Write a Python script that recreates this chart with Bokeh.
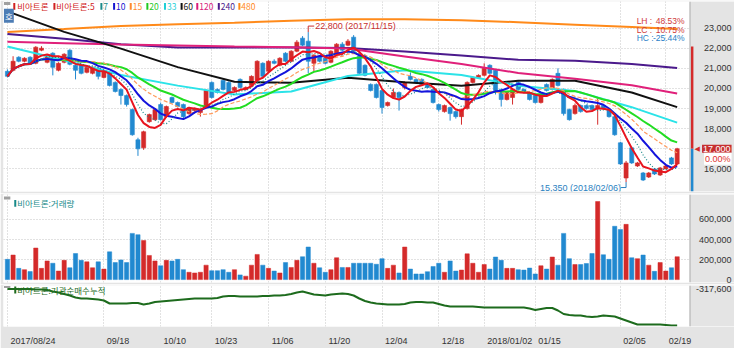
import pandas as pd
from bokeh.plotting import figure
from bokeh.models import (Range1d, FixedTicker, Grid, Label, BoxAnnotation, Span,
                          ColumnDataSource)
from bokeh.layouts import column
from bokeh.embed import file_html
from bokeh.resources import INLINE
from bokeh.core.properties import value

# ---------------------------------------------------------------- data
holidays = ["2017-10-02", "2017-10-03", "2017-10-04", "2017-10-05", "2017-10-06",
            "2017-10-09", "2017-12-25", "2017-12-29", "2018-01-01", "2018-02-15",
            "2018-02-16"]
trading_days = [d for d in pd.bdate_range("2017-08-24", "2018-02-21")
                if d.strftime("%Y-%m-%d") not in holidays]
dates = [d.strftime("%Y/%m/%d") for d in trading_days]

open_ = [20850, 20900, 21550, 21350, 21550, 21250, 21900, 21300, 21750, 20900,
         21300, 21900, 21150, 21150, 20800, 20750, 21000, 20550, 20750, 20300,
         19950, 19650, 18950, 17450, 17050, 18350, 18450, 19200, 18600, 19550,
         19300, 19200, 18750, 18900, 18800, 19050, 20300, 19950, 20400, 20300,
         19900, 20450, 19950, 20150, 20400, 21250, 20850, 21350, 21150, 21750,
         21350, 21850, 22500, 22350, 21250, 21600, 21500, 21300, 21700, 22200,
         22150, 22550, 21600, 21150, 20200, 20200, 19900, 19150, 19550, 19800,
         20050, 20600, 20450, 20450, 20200, 19950, 19200, 18850, 19050, 18850,
         18600, 19000, 20300, 20550, 20650, 21150, 20900, 19950, 19450, 19550,
         20300, 19950, 19800, 19650, 19300, 20200, 19950, 20750, 19950, 18950,
         18750, 19150, 19150, 19150, 19000, 19150, 18950, 18600, 17300, 15550,
         17050, 16150, 15800, 15600, 16000, 15700, 16000, 16550, 16250]
high = [20950, 21600, 21600, 21550, 21600, 22100, 22100, 21700, 21800, 21300,
        21750, 21950, 21200, 21200, 21100, 21100, 21050, 20900, 20800, 20350,
        20000, 19700, 19000, 17550, 17900, 18750, 19000, 19300, 19150, 19600,
        19350, 19250, 19100, 19050, 19000, 19950, 20350, 20000, 20450, 20350,
        20100, 20500, 20100, 20650, 21400, 21300, 21400, 21450, 21550, 21800,
        21900, 22400, 22600, 22800, 21700, 21650, 21550, 21900, 22250, 22300,
        22450, 22650, 21650, 21200, 20250, 20250, 19950, 19350, 20000, 19850,
        20350, 20800, 20500, 20500, 20250, 20000, 19250, 19200, 19100, 18900,
        19000, 20350, 20600, 20700, 21250, 21200, 20950, 20000, 19850, 20000,
        20350, 20000, 19850, 19700, 19700, 20250, 20500, 21000, 20000, 19000,
        19250, 19200, 19200, 19200, 19500, 19200, 19000, 18650, 17350, 16400,
        17100, 16350, 15850, 15850, 16050, 16100, 16200, 16600, 17050]
low = [20550, 20850, 21300, 21300, 21200, 21200, 21850, 21250, 20650, 20850,
       21250, 21150, 20450, 20700, 20750, 20700, 20450, 20500, 20100, 19800,
       19200, 19100, 17650, 16650, 16950, 18300, 18400, 18400, 18550, 19250,
       19050, 18450, 18700, 18850, 18600, 19000, 19500, 19750, 19900, 19750,
       19850, 20000, 19900, 20100, 20350, 20550, 20800, 21200, 21100, 21300,
       21300, 21800, 22100, 20750, 20850, 21300, 21200, 21250, 21650, 21850,
       22100, 21800, 20700, 20600, 19850, 19500, 18750, 19100, 19500, 18900,
       19950, 20400, 20250, 20150, 20000, 19250, 18850, 18800, 18400, 18500,
       18200, 18950, 20250, 20500, 20600, 20700, 19700, 19100, 19400, 19200,
       19900, 19750, 19400, 19250, 19250, 19850, 19900, 20100, 18650, 18400,
       18700, 18800, 18950, 18900, 18200, 18950, 18550, 17650, 16200, 15350,
       16250, 16100, 15400, 15550, 15700, 15650, 16000, 16200, 16200]
close = [20600, 21350, 21350, 21500, 21250, 22050, 22000, 21650, 21050, 21250,
         21700, 21200, 20900, 20750, 21050, 21050, 20600, 20850, 20150, 19850,
         19650, 19200, 17700, 17000, 17850, 18700, 18950, 18450, 19100, 19300,
         19100, 18600, 19050, 19000, 18950, 19900, 19550, 19800, 19950, 19800,
         20050, 20050, 20050, 20600, 21350, 20600, 21350, 21250, 21500, 21350,
         21850, 22300, 22150, 21350, 21650, 21350, 21250, 21850, 22200, 21900,
         22350, 21850, 20750, 20650, 19900, 19550, 19050, 19300, 19800, 19550,
         20300, 20450, 20300, 20200, 20050, 19300, 18950, 19150, 18750, 18600,
         18950, 20300, 20550, 20650, 21000, 20750, 19900, 19450, 19800, 19950,
         19950, 19800, 19450, 19300, 19650, 19900, 20450, 20150, 18750, 18450,
         19150, 18850, 19000, 18950, 19150, 19000, 18600, 17700, 16250, 16300,
         16300, 16300, 15450, 15800, 15750, 16050, 16150, 16250, 17000]
volume = [202000, 245000, 112000, 99000, 80000, 315000, 112000, 186000, 163000, 85000,
          192000, 118000, 260000, 192000, 177000, 118000, 177000, 105000, 277000, 170000,
          196000, 170000, 461000, 448000, 390000, 241000, 186000, 138000, 192000, 186000,
          202000, 99000, 73000, 66000, 73000, 144000, 89000, 89000, 99000, 73000,
          99000, 47000, 34000, 144000, 251000, 144000, 112000, 85000, 66000, 170000,
          121000, 192000, 228000, 325000, 163000, 118000, 73000, 99000, 218000, 121000,
          121000, 163000, 163000, 163000, 163000, 153000, 209000, 112000, 144000, 66000,
          325000, 105000, 56000, 56000, 79000, 131000, 163000, 73000, 186000, 85000,
          95000, 257000, 163000, 73000, 150000, 105000, 225000, 192000, 112000, 112000,
          99000, 95000, 115000, 56000, 138000, 105000, 225000, 144000, 461000, 209000,
          150000, 150000, 160000, 260000, 779000, 248000, 202000, 532000, 500000, 551000,
          218000, 209000, 245000, 144000, 82000, 170000, 85000, 118000, 228000]
inst_cum = [-317600, -317600, -317600, -317600, -317600, -330100, -330100, -342600, -380100, -405100,
            -442600, -480100, -530100, -555100, -555100, -567600, -580100, -605100, -680100, -680100,
            -680100, -680100, -667600, -667600, -705100, -680100, -642600, -630100, -617600, -605100,
            -592600, -580100, -567600, -555100, -555100, -555100, -555100, -542600, -505100, -492600,
            -492600, -505100, -505100, -505100, -505100, -492600, -492600, -480100, -480100, -467600,
            -442600, -405100, -380100, -417600, -455100, -467600, -480100, -455100, -442600, -430100,
            -442600, -480100, -555100, -617600, -655100, -680100, -692600, -705100, -705100, -705100,
            -692600, -655100, -642600, -642600, -655100, -655100, -692600, -730100, -755100, -755100,
            -755100, -755100, -755100, -767600, -780100, -780100, -780100, -780100, -780100, -780100,
            -780100, -780100, -805100, -842600, -817600, -792600, -792600, -855100, -942600, -967600,
            -980100, -980100, -1005100, -1017600, -1005100, -980100, -992600, -1005100, -1055100, -1105100,
            -1155100, -1205100, -1205100, -1205100, -1205100, -1205100, -1217600, -1230100, -1230100]

# long moving averages (their history lies before the window) read at these candles
ma_sample_idx = [0, 10, 20, 30, 40, 50, 60, 70, 80, 90, 100, 110, 118]
ma33_pts = [22080, 21400, 20670, 20140, 19700, 19850, 20620, 20910, 20670, 20140, 19870, 19070, 18300]
ma60_pts = [23830, 22810, 21980, 21060, 20330, 20280, 20530, 20310, 20140, 20380, 20380, 19800, 19070]
ma120_pts = [22320, 22250, 22180, 22130, 22080, 22050, 21980, 21590, 21210, 20770, 20480, 20160, 19750]
ma240_pts = [22710, 22470, 22200, 22030, 22030, 22030, 22010, 21840, 21640, 21420, 21380, 21210, 21010]
ma480_pts = [22810, 22950, 23100, 23190, 23270, 23360, 23440, 23440, 23390, 23290, 23170, 23050, 22950]

tick_dates = ["2017/08/24", "2017/09/18", "2017/10/10", "2017/10/23", "2017/11/06", "2017/11/20",
              "2017/12/04", "2017/12/18", "2018/01/02", "2018/01/15", "2018/02/05", "2018/02/19"]
tick_labels = ["2017/08/24", "09/18", "10/10", "10/23", "11/06", "11/20",
               "12/04", "12/18", "2018/01/02", "01/15", "02/05", "02/19"]
price_ticks = [16000, 18000, 19000, 20000, 21000, 22000, 23000]
price_grid = [16000, 17000, 18000, 19000, 20000, 21000, 22000, 23000]
vol_ticks = [0, 200000, 400000, 600000]
PRICE_BAR_TOP = 22080

# ---------------------------------------------------------------- style / layout
RED = "#d42a2a"
BLUE = "#2189d0"
GRAYBG = "#e4e4e4"
OUTLINE = "#a8a8a8"
GRIDC = "#c4c4c4"
KFONT = "Noto Sans CJK KR"
NFONT = "Liberation Sans"

FW = 731
H1, H2, H3 = 190, 88, 41
REF_L, REF_R = 3, 750            # reference pixels covered by each frame
REF_X0, REF_DX = 7, 5.8          # first candle and candle spacing in the reference
X0 = (REF_L - REF_X0) / REF_DX
X1 = (REF_R - REF_X0) / REF_DX
KX = FW / (REF_R - REF_L)
PPU = FW / (X1 - X0)
KY1 = H1 / 195.0
KY2 = H2 / 89.0
KY3 = H3 / 41.0
PRICE_RANGE = (14880, 24320)
VOL_RANGE = (-29000, 849000)
INST_RANGE = (-1255100, -230100)


def xd(rx):
    return (rx - REF_X0) / REF_DX


def sx(rx):
    return (rx - REF_L) * KX


def sy1(ry):
    return H1 - (ry - 2) * KY1


def sy2(ry):
    return H2 - (ry - 200) * KY2


def sy3(ry):
    return H3 - (ry - 292) * KY3


n = len(close)
xs = list(range(n))
up = [c >= o for o, c in zip(open_, close)]
colors = [RED if u else BLUE for u in up]
src = ColumnDataSource(dict(
    x=xs, high=high, low=low, vol=volume,
    top=[max(o, c) for o, c in zip(open_, close)],
    bottom=[min(o, c) for o, c in zip(open_, close)],
    color=colors))

cs = pd.Series(close, dtype=float)
ma5 = cs.rolling(5, min_periods=1).mean().tolist()
ma7 = cs.rolling(7, min_periods=1).mean().tolist()
ma10 = cs.rolling(10, min_periods=1).mean().tolist()
ma15 = cs.rolling(15, min_periods=1).mean().tolist()
ma20 = cs.rolling(20, min_periods=1).mean().tolist()

xr = Range1d(X0, X1)
tick_idx = [dates.index(d) for d in tick_dates]


def make_fig(fh, yr, top, bottom, xaxis=False):
    p = figure(frame_width=FW, frame_height=fh, x_range=xr, y_range=Range1d(*yr),
               output_backend="svg", toolbar_location=None, title=None,
               x_axis_location="below" if xaxis else None, y_axis_location=None,
               min_border_left=3, min_border_right=0, min_border_top=top,
               min_border_bottom=bottom, background_fill_color="white",
               border_fill_color=GRAYBG, outline_line_color=None)
    p.grid.visible = False
    p.add_layout(Grid(dimension=0, ticker=FixedTicker(ticks=tick_idx),
                      grid_line_color=GRIDC, grid_line_dash="1 2"))
    return p


def right_panel(p, ticks):
    """grey value-scale strip at the right of a pane, with its tick labels"""
    p.add_layout(BoxAnnotation(left=xd(704.5), fill_color=GRAYBG, fill_alpha=1.0,
                               line_color=None))
    p.add_layout(Span(location=xd(704.5), dimension="height", line_color=OUTLINE,
                      line_width=1))
    r = p.text(x=[xd(747)] * len(ticks), y=ticks, text=[f"{t:,}" for t in ticks],
               text_align="right", text_baseline="middle", text_font=value(NFONT),
               text_font_size="9px", text_color="#333333")
    r.level = "overlay"


def box(p, l, r, t, b, color):
    p.add_layout(BoxAnnotation(left=l, right=r, top=t, bottom=b,
                               left_units="screen", right_units="screen",
                               top_units="screen", bottom_units="screen",
                               fill_color=color, fill_alpha=1.0, line_color=None))


def label(p, x, y, text, color, size="9px", font=NFONT, align="left", **kw):
    p.add_layout(Label(x=x, y=y, x_units="screen", y_units="screen", text=text,
                       text_color=color, text_font_size=size, text_font=font,
                       text_align=align, text_baseline="middle", **kw))


# ---------------------------------------------------------------- price pane
p1 = make_fig(H1, PRICE_RANGE, 1, 2)
p1.add_layout(Grid(dimension=1, ticker=FixedTicker(ticks=price_grid),
                   grid_line_color=GRIDC, grid_line_dash="1 2"))

p1.segment(x0="x", y0="low", x1="x", y1="high", color="color", line_width=1, source=src)
p1.vbar(x="x", width=0.72, top="top", bottom="bottom", fill_color="color",
        line_color="color", line_width=0.6, source=src)

p1.line(ma_sample_idx, ma480_pts, line_color="#ff8a1a", line_width=2)
p1.line(ma_sample_idx, ma240_pts, line_color="#4b1a8c", line_width=2)
p1.line(ma_sample_idx, ma120_pts, line_color="#e0207a", line_width=2)
p1.line(ma_sample_idx, ma60_pts, line_color="#111111", line_width=2)
p1.line(ma_sample_idx, ma33_pts, line_color="#2be3e8", line_width=2)
p1.line(xs, ma20, line_color="#22dd22", line_width=2)
p1.line(xs, ma15, line_color="#ff9a5c", line_width=1.2, line_dash="4 2")
p1.line(xs, ma10, line_color="#1414dc", line_width=2)
p1.line(xs, ma7, line_color="#1a8a8a", line_width=1.2, line_dash="1 2")
p1.line(xs, ma5, line_color="#e8141e", line_width=2)

# high / low annotations
hi = max(high)
hi_i = high.index(hi)
lo = min(low)
lo_i = low.index(lo)
dpy = (PRICE_RANGE[1] - PRICE_RANGE[0]) / H1
p1.line([hi_i, hi_i, hi_i + 6 / PPU], [hi, hi + 6 * dpy, hi + 6 * dpy],
        line_color="#c83030", line_width=1)
p1.add_layout(Label(x=hi_i, y=hi, x_offset=7, y_offset=6,
                    text=f"{hi:,} ({dates[hi_i]})", text_color="#c83030",
                    text_font_size="9px", text_font=NFONT, text_baseline="middle"))
p1.line([lo_i, lo_i, lo_i - 5 / PPU], [lo, lo - 5.5 * dpy, lo - 5.5 * dpy],
        line_color="#2a7fbf", line_width=1)
p1.add_layout(Label(x=lo_i, y=lo, x_offset=-5, y_offset=-5.5, text_align="right",
                    text=f"{lo:,} ({dates[lo_i]})", text_color="#2a7fbf",
                    text_font_size="9px", text_font=NFONT, text_baseline="middle"))

# right strip: scale labels, range bar, current price tag
right_panel(p1, price_ticks)
last = close[-1]
p1.add_layout(BoxAnnotation(left=xd(705.5), right=xd(708), top=PRICE_BAR_TOP, bottom=last,
                            fill_color=RED, fill_alpha=1.0, line_color=None))
p1.add_layout(BoxAnnotation(left=xd(705.5), right=xd(708), top=last,
                            fill_color=BLUE, fill_alpha=1.0, line_color=None))
p1.add_layout(Label(x=xd(709), y=last, text="◀", text_color=RED,
                    text_font_size="7px", text_font="DejaVu Sans", text_baseline="middle"))
p1.add_layout(Label(x=xd(747), y=last, text=f"{last:,}", text_align="right",
                    text_color="white", background_fill_color="#c62f2f", padding=1,
                    text_font_size="9px", text_font=NFONT, text_baseline="middle"))
p1.add_layout(Label(x=xd(747), y=last, y_offset=-10, text="0.00%", text_align="right",
                    text_color="#e03030", background_fill_color="white", padding=1,
                    text_font_size="9px", text_font=NFONT, text_baseline="middle"))

# LH / LC / HC statistics
lh = (hi - lo) / lo * 100
lc = (last - lo) / lo * 100
hc = (last - hi) / hi * 100
for ry, name, val, col in [(22.5, "LH :", lh, "#d03a3a"), (31, "LC :", lc, "#d03a3a"),
                           (39.5, "HC :", hc, "#2a7fc8")]:
    label(p1, sx(650), sy1(ry), name, col, size="8.5px")
    label(p1, sx(699), sy1(ry), f"{val:.2f}%", col, size="8.5px", align="right")

# legend row
box(p1, sx(3.5), sx(10), sy1(2.5), sy1(5.5), "#a0a0a0")
legend_items = [("비아트론", "#d02020", 13, 17), ("비아트론:5", "#d02020", 54, 57),
                ("7", "#1a8a8a", 102, 105), ("10", "#1414d0", 115, 118),
                ("15", "#ff8a30", 132, 135), ("20", "#1fc81f", 149, 152),
                ("33", "#1fd0d6", 167, 170), ("60", "#111111", 184, 187),
                ("120", "#d81b7a", 200, 203), ("240", "#4b1a8c", 222, 225),
                ("480", "#ff8a1a", 243, 246)]
for text, col, bx, tx in legend_items:
    box(p1, sx(bx), sx(bx) + 2, sy1(3.5), sy1(10.5), col)
    label(p1, sx(tx), sy1(7), text, col, size="8.5px", font=KFONT)
label(p1, sx(3.5), sy1(16.5), "호", "white", size="8.5px", font=KFONT,
      background_fill_color="#4d7db5", padding=1)

# ---------------------------------------------------------------- volume pane
p2 = make_fig(H2, VOL_RANGE, 1, 2)
p2.add_layout(Grid(dimension=1, ticker=FixedTicker(ticks=vol_ticks[1:]),
                   grid_line_color=GRIDC, grid_line_dash="1 2"))
p2.vbar(x="x", width=0.75, top="vol", bottom=0, fill_color="color",
        line_color="color", line_width=0.5, source=src)
right_panel(p2, vol_ticks)
box(p2, sx(3.5), sx(10), sy2(202), sy2(205), "#a0a0a0")
box(p2, sx(14), sx(14) + 2, sy2(205.5), sy2(212.5), "#178a8a")
label(p2, sx(17), sy2(209), "비아트론:거래량", "#178a8a", size="8.5px", font=KFONT)

# ---------------------------------------------------------------- institution pane
p3 = make_fig(H3, INST_RANGE, 1, 17, xaxis=True)
p3.line(xs, inst_cum, line_color="#1d6b1d", line_width=2)
right_panel(p3, [max(inst_cum)])
box(p3, sx(3.5), sx(10), sy3(292.5), sy3(294.5), "#a0a0a0")
box(p3, sx(14), sx(14) + 2, sy3(293), sy3(300), "#1d6b1d")
label(p3, sx(17), sy3(296.5), "비아트론:기관순매수누적", "#1d6b1d", size="8.5px", font=KFONT)

FS = 9.0


def text_w(s):
    return sum(0.556 * FS if ch.isdigit() else 0.278 * FS for ch in s)


label_pos = []
overrides = {}
for i, lab in zip(tick_idx, tick_labels):
    shift = round(((3 + text_w(lab) / 2) / PPU) * 4) / 4
    pos = i + shift
    label_pos.append(pos)
    overrides[pos] = lab
xa = p3.xaxis[0]
xa.ticker = FixedTicker(ticks=label_pos)
xa.major_label_overrides = overrides
xa.axis_line_color = None
xa.major_tick_line_color = None
xa.minor_tick_line_color = None
xa.major_label_text_font_size = "9px"
xa.major_label_text_font = NFONT
xa.major_label_text_color = "#333333"
xa.major_label_standoff = 3

layout = column(p1, p2, p3, spacing=0)
open("out.html", "w").write(file_html(layout, INLINE, title="비아트론"))
